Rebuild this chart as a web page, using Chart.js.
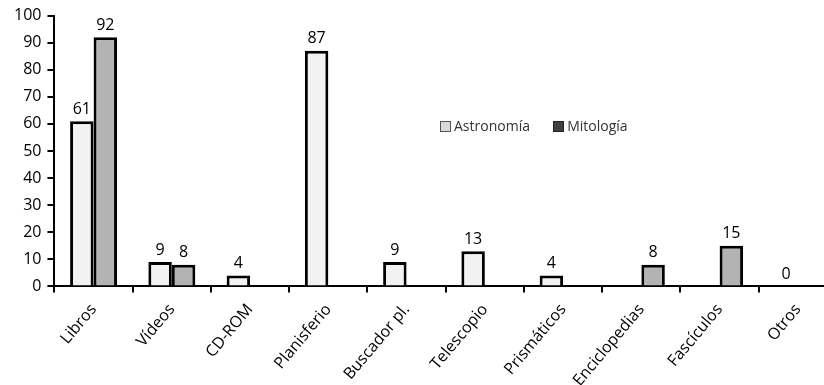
<!DOCTYPE html>
<html>
<head>
<meta charset="utf-8">
<script src="https://cdn.jsdelivr.net/npm/chart.js@4"></script>
<style>
  html, body { margin: 0; padding: 0; background: #fff; overflow: hidden; }
  #wrap { position: relative; width: 840px; height: 398px; }
  #legend { position: absolute; left: 440px; top: 116px; font-family: "Open Sans", sans-serif; font-size: 14px; color: #333; white-space: nowrap; }
  #legend span.box { display: inline-block; width: 11px; height: 11px; margin-right: 3px; vertical-align: -1px; box-sizing: border-box; }
</style>
</head>
<body>
<div id="wrap">
  <canvas id="myChart" width="840" height="398"></canvas>
  <div id="legend">
    <span class="box" style="background:#d9d9d9;border:1px solid #555"></span>Astronomía
    <span style="display:inline-block;width:16px"></span>
    <span class="box" style="background:#404040;border:1px solid #222"></span>Mitología
  </div>
</div>
<script>
// categorias y valores
const categorias = ['Libros', 'Vídeos', 'CD-ROM', 'Planisferio', 'Buscador pl.', 'Telescopio', 'Prismáticos', 'Enciclopedias', 'Fascículos', 'Otros'];
const astronomia = [61, 9, 4, 87, 9, 13, 4, null, null, 0];
const mitologia = [92, 8, null, null, null, null, null, 8, 15, null];
const yTicks = [0, 10, 20, 30, 40, 50, 60, 70, 80, 90, 100];

const fuente = '"Open Sans", sans-serif';

// escribe el valor encima de cada barra
const etiquetas = {
    id: 'etiquetas',
    afterDatasetsDraw(chart) {
        const ctx = chart.ctx;
        ctx.save();
        ctx.font = '16px ' + fuente;
        ctx.fillStyle = '#000';
        ctx.textAlign = 'center';
        ctx.textBaseline = 'bottom';
        chart.data.datasets.forEach((ds, i) => {
            chart.getDatasetMeta(i).data.forEach((bar, j) => {
                const v = ds.data[j];
                if (v === null) return;
                ctx.fillText(String(v), bar.x, bar.y - 4);
            });
        });
        ctx.restore();
    }
};

const data = {
    labels: categorias,
    datasets: [{
            label: 'Astronomía',
            backgroundColor: '#f2f2f2',
            borderColor: '#000',
            borderWidth: 3,
            data: astronomia,
        },
        {
            label: 'Mitología',
            backgroundColor: '#b3b3b3',
            borderColor: '#000',
            borderWidth: 3,
            data: mitologia,
        }
    ]
};

const config = {
    type: 'bar',
    data: data,
    options: {
        responsive: false,
        animation: false,
        layout: { padding: { top: 7, left: 8, right: 3, bottom: 0 } },
        datasets: { bar: { categoryPercentage: 0.6, barPercentage: 1 } },
        plugins: { legend: { display: false }, tooltip: { enabled: false } },
        scales: {
            x: {
                border: { color: '#000', width: 2 },
                grid: { drawOnChartArea: false, color: '#000', lineWidth: 2, tickLength: 6, offset: true },
                ticks: { color: '#000', font: { family: fuente, size: 16 }, minRotation: 50, maxRotation: 50, padding: 8 }
            },
            y: {
                min: 0,
                max: 100,
                afterBuildTicks: axis => { axis.ticks = yTicks.map(v => ({ value: v })); },
                border: { color: '#000', width: 2 },
                grid: { drawOnChartArea: false, color: '#000', lineWidth: 2, tickLength: 7 },
                ticks: { color: '#000', font: { family: fuente, size: 16 }, padding: 6 }
            }
        }
    },
    plugins: [etiquetas]
};

const myChart = new Chart(document.getElementById('myChart'), config);
</script>
</body>
</html>
